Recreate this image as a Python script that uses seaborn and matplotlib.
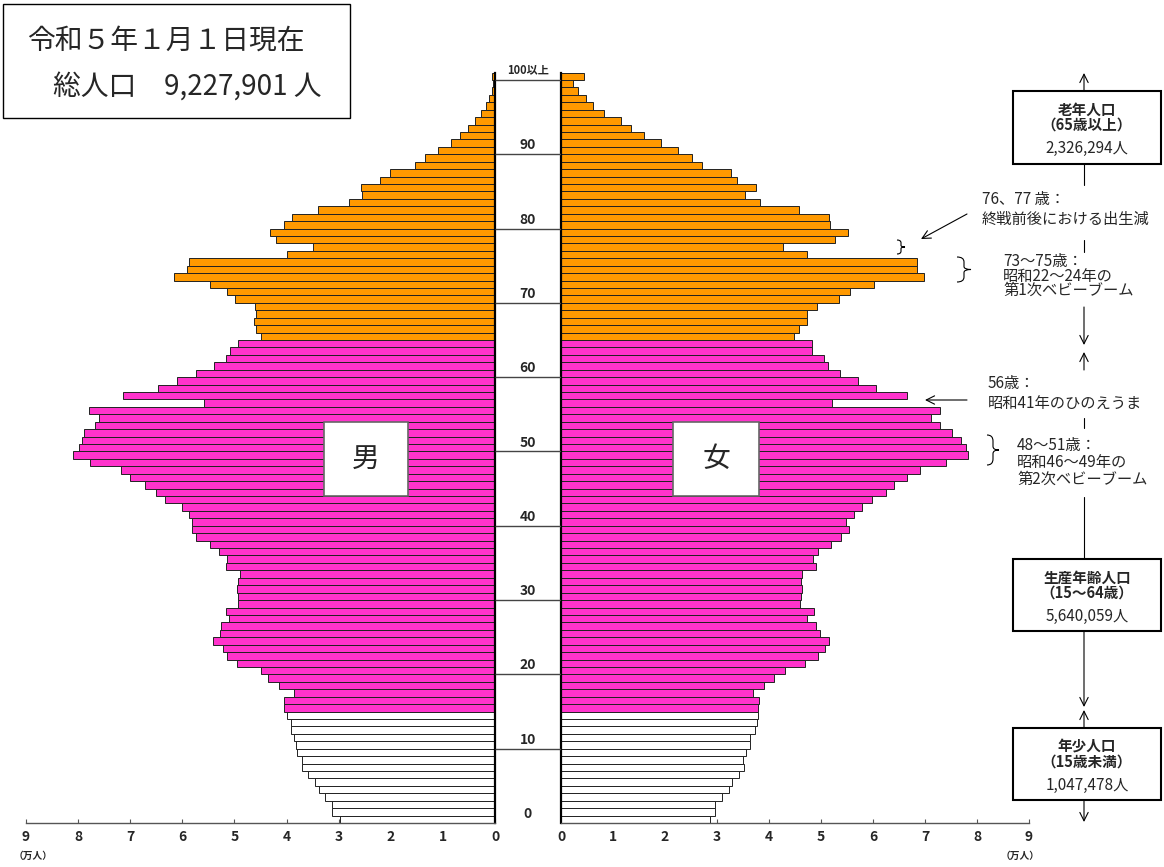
import numpy as np
import pandas as pd
import matplotlib.pyplot as plt
from matplotlib.patches import Rectangle, PathPatch, FancyArrowPatch
from matplotlib.lines import Line2D
from matplotlib.path import Path
import seaborn as sns

# population by single year of age, in units of 10,000 (万人)
ages = list(range(101))
male = [
    2.97, 3.13, 3.12, 3.27, 3.37, 3.45, 3.59, 3.71, 3.71, 3.79,
    3.82, 3.85, 3.92, 3.91, 4.00, 4.04, 4.04, 3.85, 4.14, 4.35,
    4.50, 4.96, 5.14, 5.22, 5.42, 5.27, 5.26, 5.10, 5.17, 4.93,
    4.93, 4.96, 4.93, 4.90, 5.17, 5.15, 5.29, 5.47, 5.73, 5.82,
    5.82, 5.88, 6.00, 6.33, 6.50, 6.72, 7.00, 7.17, 7.77, 8.10,
    7.98, 7.92, 7.88, 7.68, 7.60, 7.80, 5.59, 7.14, 6.47, 6.11,
    5.73, 5.39, 5.17, 5.08, 4.93, 4.49, 4.58, 4.63, 4.58, 4.61,
    4.98, 5.14, 5.47, 6.16, 5.92, 5.87, 4.00, 3.49, 4.20, 4.31,
    4.04, 3.89, 3.39, 2.81, 2.55, 2.57, 2.20, 2.02, 1.53, 1.34,
    1.10, 0.85, 0.68, 0.51, 0.38, 0.26, 0.18, 0.12, 0.06, 0.04,
    0.06,
]
female = [
    2.87, 2.97, 2.97, 3.09, 3.23, 3.29, 3.43, 3.52, 3.50, 3.56,
    3.64, 3.64, 3.74, 3.76, 3.78, 3.79, 3.81, 3.69, 3.90, 4.10,
    4.31, 4.70, 4.95, 5.08, 5.15, 4.98, 4.90, 4.73, 4.87, 4.60,
    4.62, 4.63, 4.61, 4.63, 4.91, 4.84, 4.95, 5.20, 5.39, 5.54,
    5.49, 5.64, 5.79, 5.98, 6.25, 6.41, 6.66, 6.90, 7.40, 7.82,
    7.78, 7.70, 7.52, 7.29, 7.12, 7.29, 5.22, 6.65, 6.06, 5.71,
    5.37, 5.14, 5.06, 4.82, 4.82, 4.49, 4.57, 4.74, 4.73, 4.93,
    5.34, 5.56, 6.02, 6.98, 6.85, 6.85, 4.73, 4.26, 5.26, 5.51,
    5.18, 5.15, 4.57, 3.83, 3.54, 3.75, 3.38, 3.27, 2.72, 2.52,
    2.25, 1.92, 1.60, 1.35, 1.16, 0.82, 0.61, 0.49, 0.33, 0.24,
    0.45,
]
age_ticks = [0, 10, 20, 30, 40, 50, 60, 70, 80, 90]
x_ticks = list(range(10))

# pixel helpers (figure is 1164 x 867 px)
W, H = 1164, 867
def fx(px):
    return px / W
def fy(py):
    return 1 - py / H

df = pd.DataFrame({"age": ages, "male": male, "female": female})
df["group"] = np.where(df["age"] < 15, "young", np.where(df["age"] < 65, "work", "old"))
palette = {"young": "white", "work": "#FF33CC", "old": "#FF9900"}

sns.set_theme(style="white")
plt.rcParams["font.family"] = ["Noto Sans CJK JP", "DejaVu Sans"]

fig = plt.figure(figsize=(11.64, 8.67), dpi=100)
y_bot, y_top = 823, 72.5
hgt = (y_bot - y_top) / H
ax_m = fig.add_axes([fx(26), fy(y_bot), fx(495) - fx(26), hgt])
ax_f = fig.add_axes([fx(561), fy(y_bot), fx(1029) - fx(561), hgt])
ax_c = fig.add_axes([fx(495), fy(y_bot), fx(561) - fx(495), hgt])

for ax, col in [(ax_m, "male"), (ax_f, "female")]:
    sns.barplot(data=df, x=col, y="age", hue="group", palette=palette, orient="y",
                native_scale=True, dodge=False, width=1.0, saturation=1,
                edgecolor="#222222", linewidth=0.7, errorbar=None, legend=False, ax=ax)
    ax.set_ylim(-0.5, 100.5)
    ax.set_xticks(x_ticks)
    ax.set_xticklabels([str(t) for t in x_ticks], fontweight="bold", fontsize=10)
    ax.tick_params(axis="x", direction="in", length=3, width=0.8, color="#555555",
                   pad=5, bottom=True)
    ax.set_yticks([])
    ax.set_xlabel("")
    ax.set_ylabel("")
    ax.spines["top"].set_visible(False)
    ax.spines["bottom"].set_color("#555555")
    ax.spines["bottom"].set_linewidth(1.0)

ax_m.set_xlim(9, 0)
ax_f.set_xlim(0, 9)
ax_m.spines["left"].set_visible(False)
ax_m.spines["right"].set_color("black")
ax_m.spines["right"].set_linewidth(1.6)
ax_f.spines["right"].set_visible(False)
ax_f.spines["left"].set_color("black")
ax_f.spines["left"].set_linewidth(1.6)

# middle column with age labels
ax_c.set_xlim(0, 1)
ax_c.set_ylim(-0.5, 100.5)
ax_c.axis("off")
ax_c.hlines([a - 0.5 for a in age_ticks[1:] + [100]], 0, 1, color="#444444", lw=1.0)
for a in age_ticks:
    ax_c.text(0.5, a + 0.7, str(a), ha="center", va="center", fontsize=10, fontweight="bold")
ax_c.text(0.5, 100.85, "100以上", ha="center", va="center", fontsize=8, fontweight="bold",
          clip_on=False)

fig.text(fx(33), fy(856), "（万人）", ha="center", va="center", fontsize=7, fontweight="bold")
fig.text(fx(1020), fy(856), "（万人）", ha="center", va="center", fontsize=7, fontweight="bold")

def fig_rect(x0, y0, x1, y1, ec="black", lw=1.2):
    r = Rectangle((fx(x0), fy(y1)), fx(x1) - fx(x0), fy(y0) - fy(y1),
                  transform=fig.transFigure, facecolor="white", edgecolor=ec, lw=lw, zorder=5)
    fig.add_artist(r)

# title box
fig_rect(3, 4, 350, 118, lw=1.0)
fig.text(fx(27), fy(41), "令和５年１月１日現在", ha="left", va="center", fontsize=20, zorder=6)
fig.text(fx(53), fy(88), "総人口　9,227,901 人", ha="left", va="center", fontsize=20, zorder=6)

# sex labels
fig_rect(324, 422, 408, 496, ec="#666666")
fig.text(fx(366), fy(459), "男", ha="center", va="center", fontsize=20, zorder=6)
fig_rect(673, 422, 759, 496, ec="#666666")
fig.text(fx(716), fy(459), "女", ha="center", va="center", fontsize=20, zorder=6)

# right side: population group boxes and connecting line
xl = 1084
def seg(y0, y1, arrow=False):
    if arrow:
        a = FancyArrowPatch((fx(xl), fy(y0)), (fx(xl), fy(y1)), transform=fig.transFigure,
                            arrowstyle="->,head_length=0.5,head_width=0.25",
                            mutation_scale=12, lw=0.8, color="black",
                            shrinkA=0, shrinkB=0)
        fig.add_artist(a)
    else:
        fig.add_artist(Line2D([fx(xl), fx(xl)], [fy(y0), fy(y1)], transform=fig.transFigure,
                              color="black", lw=0.8))

seg(91, 73, True)
seg(164, 185)
seg(240, 252)
seg(307, 345, True)
seg(370, 352, True)
seg(418, 428)
seg(497, 559)
seg(631, 707, True)
seg(728, 710, True)
seg(800, 822, True)

boxes = [
    (91, 164, "老年人口\n（65歳以上）", "2,326,294人"),
    (559, 631, "生産年齢人口\n（15～64歳）", "5,640,059人"),
    (728, 800, "年少人口\n（15歳未満）", "1,047,478人"),
]
for y0, y1, head, num in boxes:
    fig_rect(1013, y0, 1161, y1, lw=1.5)
    fig.text(fx(1087), fy(y0 + 26), head, ha="center", va="center", fontsize=10.5,
             fontweight="bold", linespacing=0.95, zorder=6)
    fig.text(fx(1087), fy(y0 + 57), num, ha="center", va="center", fontsize=11, zorder=6)

# annotations (x, y centre, text, line spacing)
notes = [
    (982, 209.5, "76、77 歳：\n終戦前後における出生減", 1.28),
    (1003, 276, "73～75歳：\n昭和22～24年の\n第1次ベビーブーム", 0.82),
    (988, 393.5, "56歳：\n昭和41年のひのえうま", 1.28),
    (1017, 462.5, "48～51歳：\n昭和46～49年の\n第2次ベビーブーム", 0.98),
]
for x, y, s, ls in notes:
    fig.text(fx(x), fy(y), s, ha="left", va="center", fontsize=11, linespacing=ls)

for p0, p1 in [((967, 214), (921, 239)), ((967, 400), (925, 400))]:
    fig.add_artist(FancyArrowPatch((fx(p0[0]), fy(p0[1])), (fx(p1[0]), fy(p1[1])),
                                   transform=fig.transFigure,
                                   arrowstyle="->,head_length=0.5,head_width=0.25",
                                   mutation_scale=12, lw=0.8, color="black",
                                   shrinkA=0, shrinkB=0))

def brace(x0, y0, y1, w):
    xm = x0 + w / 2
    ym = (y0 + y1) / 2
    h = y1 - y0
    pts = [(x0, y0), (xm, y0), (xm, y0 + h * 0.2), (xm, ym - h * 0.12),
           (xm, ym), (x0 + w, ym), (xm, ym), (xm, ym + h * 0.12),
           (xm, y1 - h * 0.2), (xm, y1), (x0, y1)]
    codes = [Path.MOVETO, Path.CURVE3, Path.CURVE3, Path.LINETO, Path.CURVE3, Path.CURVE3,
             Path.CURVE3, Path.CURVE3, Path.LINETO, Path.CURVE3, Path.CURVE3]
    path = Path([(fx(px), fy(py)) for px, py in pts], codes)
    fig.add_artist(PathPatch(path, transform=fig.transFigure, fill=False,
                             edgecolor="black", lw=0.8))

brace(897, 240, 254, 8)
brace(957, 257, 282, 14)
brace(987, 435, 465, 12)

fig.savefig("out.png", dpi=100)
